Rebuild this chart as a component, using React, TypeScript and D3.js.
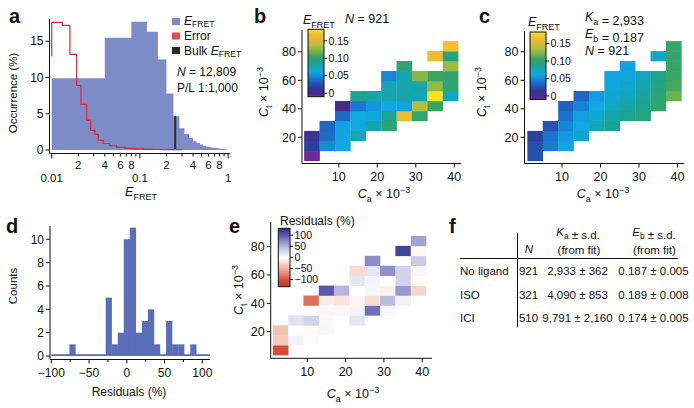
import React from 'react';
import * as d3 from 'd3';

const FONT = '"Liberation Sans", Arial, Helvetica, sans-serif';

// ---------------- panel a : E_FRET histogram ----------------
const EFRET_BIN = 0.04;
const EFRET_OCC = [9.9, 15.5, 17.7, 16.3, 12.5, 7.8, 4.65, 3.0, 2.2, 1.7, 1.2, 0.95, 0.75, 0.6, 0.5, 0.42, 0.36, 0.3, 0.26, 0.22, 0.18, 0.15, 0.12, 0.1];
const ERROR_EDGES = [0.01, 0.01318, 0.01611, 0.01918, 0.02144, 0.02489, 0.02763, 0.03088, 0.03366, 0.03834, 0.04559, 0.05434, 0.06748, 0.08765, 0.11, 0.14, 0.18, 0.23, 0.3];
const ERROR_OCC = [17.6, 17.2, 13.2, 8.9, 6.3, 4.1, 2.7, 2.15, 1.37, 0.9, 0.6, 0.37, 0.23, 0.15, 0.1, 0.07, 0.05, 0.04];
const ERROR_ENTRY = 12.9;
const BULK_RANGE = [0.245, 0.258];
const BULK_OCC = 4.65;
const A_Y_TICKS = [0, 5, 10, 15];
const A_MAJOR = [0.01, 0.1, 1];
const A_MAJOR_LABELS = ['0.01', '0.1', '1'];
const A_MINOR_MULT = [2, 3, 4, 5, 6, 7, 8, 9];
const A_MINOR_LABELLED = [2, 4, 6, 8];

// ---------------- heat maps (b, c, e) ----------------
const CA_BIN = 4;
const CT_BIN = 7;
const CT_CENTERS = [7, 14, 21, 28, 35, 42, 49, 56, 63, 70, 77, 84];
const CA_BY_ROW = [
  [3],
  [3, 7, 11],
  [3, 7, 11, 15],
  [7, 11, 15, 19, 23],
  [11, 15, 19, 23, 27, 31],
  [11, 15, 19, 23, 27, 31, 35],
  [15, 19, 23, 27, 31, 35, 39],
  [23, 27, 31, 35, 39],
  [23, 27, 31, 35, 39],
  [27, 39],
  [35, 39],
  [39],
];
const E_MEASURED = [
  [-0.01],
  [0.018, 0.05, 0.06],
  [0.008, 0.038, 0.058, 0.078],
  [0.036, 0.058, 0.062, 0.08, 0.1],
  [0.037, 0.06, 0.064, 0.088, 0.162, 0.102],
  [0.0, 0.042, 0.054, 0.06, 0.058, 0.135, 0.105],
  [0.088, 0.082, 0.08, 0.08, 0.078, 0.182, 0.072],
  [0.078, 0.08, 0.08, 0.128, 0.1],
  [0.048, 0.08, 0.125, 0.105, 0.1],
  [0.098, 0.13],
  [0.163, 0.095],
  [0.17],
];
const E_FIT = [
  [0.027],
  [0.025, 0.043, 0.058],
  [0.018, 0.04, 0.055, 0.07],
  [0.028, 0.048, 0.062, 0.076, 0.088],
  [0.04, 0.057, 0.068, 0.08, 0.088, 0.095],
  [0.034, 0.047, 0.06, 0.073, 0.082, 0.09, 0.1],
  [0.035, 0.056, 0.067, 0.075, 0.085, 0.097, 0.118],
  [0.063, 0.069, 0.08, 0.094, 0.108],
  [0.059, 0.064, 0.075, 0.09, 0.106],
  [0.058, 0.104],
  [0.072, 0.103],
  [0.102],
];
const RESIDUALS = [
  [-105],
  [-35, 8, 2],
  [-40, 1, -5, 5],
  [20, 30, -4, 0, 18],
  [2, 6, 5, 8, 88, 6],
  [-85, -12, -18, -8, -22, 45, 10],
  [100, 48, 0, 6, -10, 65, -28],
  [18, 8, 0, 30, -3],
  [-25, 18, 70, 30, 6],
  [72, 35],
  [115, -5],
  [60],
];
const HEAT_X_TICKS = [10, 20, 30, 40];
const HEAT_Y_TICKS = [20, 40, 60, 80];
const E_CB_TICKS = [0, 0.05, 0.1, 0.15];
const E_CB_LABELS = ['0', '0.05', '0.10', '0.15'];
const E_CB_DOMAIN = [-0.01, 0.183];
const E_STOPS = [-0.01, 0, 0.015, 0.03, 0.045, 0.06, 0.075, 0.09, 0.105, 0.12, 0.135, 0.155, 0.17, 0.183];
const E_COLORS = ['#6e2a96', '#482c8c', '#2e3a98', '#2458b8', '#1680d4', '#10a8e4', '#12a6bc', '#1ea48c', '#38a462', '#70b44c', '#b0c040', '#e4b836', '#f4c030', '#f8e620'];
const R_CB_TICKS = [100, 50, 0, -50, -100];
const R_CB_LABELS = ['100', '50', '0', '\u221250', '\u2212100'];
const R_CB_DOMAIN = [-132, 131];
const R_STOPS = [-132, -100, -50, 0, 50, 100, 131];
const R_COLORS = ['#c9302c', '#d8503c', '#f0b4a0', '#ffffff', '#b4b4dc', '#5a5aac', '#2a2d84'];

// ---------------- panel d : residual histogram ----------------
const RESID_BIN = 8;
const RESID_CENTERS = [-72, -24, -16, -8, 0, 8, 16, 24, 32, 40, 56, 64, 72, 88];
const RESID_COUNTS = [1, 5, 1, 2, 10, 11, 2, 3, 4, 1, 3, 1, 1, 1];
const RESID_RANGE = [-100, 110];
const D_X_TICKS = [-100, -50, 0, 50, 100];
const D_X_LABELS = ['\u2212100', '\u221250', '0', '50', '100'];
const D_X_MINOR = [-75, -25, 25, 75];
const D_Y_TICKS = [0, 2, 4, 6, 8, 10];

// ---------------- panel f : table ----------------
const TABLE_ROWS = ['No ligand', 'ISO', 'ICI'];
const TABLE_N = ['921', '321', '510'];
const TABLE_KA = ['2,933 \u00b1 362', '4,090 \u00b1 853', '9,791 \u00b1 2,160'];
const TABLE_EB = ['0.187 \u00b1 0.005', '0.189 \u00b1 0.008', '0.174 \u00b1 0.005'];

const eColor = d3.scaleLinear<string>().domain(E_STOPS).range(E_COLORS).interpolate(d3.interpolateRgb).clamp(true);
const rColor = d3.scaleLinear<string>().domain(R_STOPS).range(R_COLORS).interpolate(d3.interpolateRgb).clamp(true);

const AX = '#111';

function SubLabel({ main, sub, size, italic = true, shift = 0.28 }: any) {
  return (
    <>
      <tspan fontStyle={italic ? 'italic' : 'normal'}>{main}</tspan>
      <tspan fontSize={size * 0.72} dy={size * shift}>{sub}</tspan>
      <tspan dy={-size * shift}>{''}</tspan>
    </>
  );
}

function CLabel({ sub, size }: any) {
  return (
    <>
      <tspan fontStyle="italic">C</tspan>
      <tspan fontSize={size * 0.72} dy={size * 0.3}>{sub}</tspan>
      <tspan dy={-size * 0.3}>{' \u00d7 10'}</tspan>
      <tspan fontSize={size * 0.72} dy={-size * 0.42}>{'\u22123'}</tspan>
    </>
  );
}

function PanelA() {
  const x = d3.scaleLog().domain([0.01, 1]).range([51.7, 228.1]);
  const y = d3.scaleLinear().domain([0, 15]).range([150, 41.25]);
  let blue = `M${x(0.01)},${y(0)}`;
  EFRET_OCC.forEach((v, i) => {
    blue += `V${y(v)}H${x((i + 1) * EFRET_BIN)}`;
  });
  blue += `V${y(0)}Z`;
  let red = `M${x(ERROR_EDGES[0])},${y(ERROR_ENTRY)}`;
  ERROR_OCC.forEach((v, i) => {
    red += `V${y(v)}H${x(ERROR_EDGES[i + 1])}`;
  });
  red += `V${y(0)}`;
  const minors: number[] = [];
  [0.01, 0.1].forEach((d) => A_MINOR_MULT.forEach((m) => minors.push(d * m)));
  const axY = 153.5;
  const axX = 49.5;
  return (
    <g>
      <path d={blue} fill="#7d8cc6" />
      <rect x={x(BULK_RANGE[0])} width={x(BULK_RANGE[1]) - x(BULK_RANGE[0])} y={y(BULK_OCC)} height={y(0) - y(BULK_OCC)} fill="#2b2b2b" />
      <path d={red} fill="none" stroke="#d42a3c" strokeWidth={1.2} />
      <line x1={axX} x2={axX} y1={19} y2={axY} stroke={AX} />
      {A_Y_TICKS.map((t) => (
        <g key={t}>
          <line x1={axX - 4} x2={axX} y1={y(t)} y2={y(t)} stroke={AX} />
          <text x={axX - 6} y={y(t) + 4.2} fontSize={12} textAnchor="end">{t}</text>
        </g>
      ))}
      <line x1={axX} x2={230} y1={axY} y2={axY} stroke={AX} />
      {A_MAJOR.map((t, i) => (
        <g key={t}>
          <line x1={x(t)} x2={x(t)} y1={axY} y2={axY + 5} stroke={AX} />
          <text x={x(t)} y={182} fontSize={11.5} textAnchor="middle">{A_MAJOR_LABELS[i]}</text>
        </g>
      ))}
      {minors.map((t) => {
        const m = Math.round(t / (t < 0.1 ? 0.01 : 0.1));
        return (
          <g key={t}>
            <line x1={x(t)} x2={x(t)} y1={axY} y2={axY + 3} stroke={AX} />
            {A_MINOR_LABELLED.includes(m) ? (
              <text x={x(t)} y={169} fontSize={11.5} textAnchor="middle">{m}</text>
            ) : null}
          </g>
        );
      })}
      <text transform="translate(17,93) rotate(-90)" fontSize={11.5} textAnchor="middle">Occurrence (%)</text>
      <text x={141} y={196} fontSize={12.5} textAnchor="middle">
        <SubLabel main="E" sub="FRET" size={12.5} />
      </text>
      <rect x={172} y={18} width={8} height={7} fill="#7d8cc6" />
      <rect x={172} y={32.5} width={8} height={7} fill="#df4a5a" />
      <rect x={172} y={47} width={8} height={7} fill="#2b2b2b" />
      <text x={184} y={24.5} fontSize={12}>
        <SubLabel main="E" sub="FRET" size={12} shift={0.2} />
      </text>
      <text x={184} y={40} fontSize={12}>Error</text>
      <text x={184} y={55} fontSize={12}>
        <tspan>{'Bulk '}</tspan>
        <SubLabel main="E" sub="FRET" size={12} shift={0.2} />
      </text>
      <text x={177} y={76} fontSize={12}>
        <tspan fontStyle="italic">N</tspan>
        <tspan>{' = 12,809'}</tspan>
      </text>
      <text x={177} y={92} fontSize={12}>P/L 1:1,000</text>
      <text x={9} y={23} fontSize={20} fontWeight="bold">a</text>
    </g>
  );
}

function Heat({ xr, yr, axis, values, color, keyp }: any) {
  const x = d3.scaleLinear().domain([0, 40]).range(xr);
  const y = d3.scaleLinear().domain([0, 80]).range(yr);
  const cells: any[] = [];
  CT_CENTERS.forEach((ct, r) => {
    CA_BY_ROW[r].forEach((ca, c) => {
      const x0 = x(ca - CA_BIN / 2);
      const x1 = x(ca + CA_BIN / 2);
      const y0 = y(ct + CT_BIN / 2);
      const y1 = y(ct - CT_BIN / 2);
      cells.push(
        <rect key={`${keyp}-${r}-${c}`} x={x0} y={y0} width={x1 - x0 + 0.3} height={y1 - y0 + 0.3} fill={color(values[r][c])} />
      );
    });
  });
  const { left, top, bottom, right } = axis;
  return (
    <g>
      {cells}
      <line x1={left} x2={left} y1={top} y2={bottom} stroke={AX} />
      <line x1={left} x2={right} y1={bottom} y2={bottom} stroke={AX} />
      {HEAT_X_TICKS.map((t) => (
        <g key={t}>
          <line x1={x(t)} x2={x(t)} y1={bottom} y2={bottom + 4} stroke={AX} />
          <text x={x(t)} y={bottom + 17.5} fontSize={12.5} textAnchor="middle">{t}</text>
        </g>
      ))}
      {HEAT_Y_TICKS.map((t) => (
        <g key={t}>
          <line x1={left - 4} x2={left} y1={y(t)} y2={y(t)} stroke={AX} />
          <text x={left - 6} y={y(t) + 4.4} fontSize={12.5} textAnchor="end">{t}</text>
        </g>
      ))}
    </g>
  );
}

function ColorBar({ id, x, y0, y1, w, domain, ticks, labels, color, fs = 10.5 }: any) {
  const s = d3.scaleLinear().domain(domain).range([y1, y0]);
  const n = 40;
  const stops = d3.range(n + 1).map((i) => {
    const v = domain[1] - (i / n) * (domain[1] - domain[0]);
    return <stop key={i} offset={`${(i / n) * 100}%`} stopColor={color(v)} />;
  });
  return (
    <g>
      <defs>
        <linearGradient id={id} x1="0" y1="0" x2="0" y2="1">
          {stops}
        </linearGradient>
      </defs>
      <rect x={x} y={y0} width={w} height={y1 - y0} fill={`url(#${id})`} stroke="#111" strokeWidth={1} />
      {ticks.map((t: number, i: number) => (
        <g key={t}>
          <line x1={x + w} x2={x + w + 3} y1={s(t)} y2={s(t)} stroke="#111" />
          <text x={x + w + 4.5} y={s(t) + 3.7} fontSize={fs}>{labels[i]}</text>
        </g>
      ))}
    </g>
  );
}

function PanelB() {
  return (
    <g>
      <Heat keyp="b" xr={[300.3, 454.3]} yr={[165.8, 51.8]} axis={{ left: 302, top: 30, bottom: 163.5, right: 461 }} values={E_MEASURED} color={eColor} />
      <ColorBar id="cbB" x={308} y0={29.3} y1={96.7} w={16} domain={E_CB_DOMAIN} ticks={E_CB_TICKS} labels={E_CB_LABELS} color={eColor} />
      <text x={303} y={24} fontSize={12.5}>
        <SubLabel main="E" sub="FRET" size={12.5} />
      </text>
      <text x={345} y={23} fontSize={12.5}>
        <tspan fontStyle="italic">N</tspan>
        <tspan>{' = 921'}</tspan>
      </text>
      <text transform="translate(268,92) rotate(-90)" fontSize={12.5} textAnchor="middle">
        <CLabel sub="t" size={12.5} />
      </text>
      <text x={384} y={198} fontSize={12.5} textAnchor="middle">
        <CLabel sub="a" size={12.5} />
      </text>
      <text x={254} y={23} fontSize={20} fontWeight="bold">b</text>
    </g>
  );
}

function PanelC() {
  return (
    <g>
      <Heat keyp="c" xr={[523.5, 677.5]} yr={[165.8, 51.8]} axis={{ left: 524.5, top: 31, bottom: 163.5, right: 684 }} values={E_FIT} color={eColor} />
      <ColorBar id="cbC" x={530} y0={32} y1={99.4} w={16} domain={E_CB_DOMAIN} ticks={E_CB_TICKS} labels={E_CB_LABELS} color={eColor} />
      <text x={528} y={26} fontSize={12.5}>
        <SubLabel main="E" sub="FRET" size={12.5} />
      </text>
      <text x={585} y={21} fontSize={12.5}>
        <SubLabel main="K" sub="a" size={12.5} />
        <tspan>{' = 2,933'}</tspan>
      </text>
      <text x={585} y={38} fontSize={12.5}>
        <SubLabel main="E" sub="b" size={12.5} />
        <tspan>{' = 0.187'}</tspan>
      </text>
      <text x={585} y={55} fontSize={12.5}>
        <tspan fontStyle="italic">N</tspan>
        <tspan>{' = 921'}</tspan>
      </text>
      <text transform="translate(486,92) rotate(-90)" fontSize={12.5} textAnchor="middle">
        <CLabel sub="t" size={12.5} />
      </text>
      <text x={603} y={198} fontSize={12.5} textAnchor="middle">
        <CLabel sub="a" size={12.5} />
      </text>
      <text x={479} y={23} fontSize={20} fontWeight="bold">c</text>
    </g>
  );
}

function PanelD() {
  const x = d3.scaleLinear().domain([-100, 100]).range([51.3, 202.3]);
  const y = d3.scaleLinear().domain([0, 10]).range([356, 239.3]);
  const axX = 50;
  const axY = 359.5;
  return (
    <g>
      <rect x={x(RESID_RANGE[0])} width={x(RESID_RANGE[1]) - x(RESID_RANGE[0])} y={y(0) - 1.8} height={1.8} fill="#5b6eb8" />
      {RESID_CENTERS.map((c, i) => (
        <rect key={c} x={x(c - RESID_BIN / 2)} width={x(c + RESID_BIN / 2) - x(c - RESID_BIN / 2) + 0.2} y={y(RESID_COUNTS[i])} height={y(0) - y(RESID_COUNTS[i])} fill="#5b6eb8" />
      ))}
      <line x1={axX} x2={axX} y1={226} y2={axY} stroke={AX} />
      <line x1={axX} x2={210} y1={axY} y2={axY} stroke={AX} />
      {D_Y_TICKS.map((t) => (
        <g key={t}>
          <line x1={axX - 4} x2={axX} y1={y(t)} y2={y(t)} stroke={AX} />
          <text x={axX - 6} y={y(t) + 4.2} fontSize={12} textAnchor="end">{t}</text>
        </g>
      ))}
      {D_X_TICKS.map((t, i) => (
        <g key={t}>
          <line x1={x(t)} x2={x(t)} y1={axY} y2={axY + 4} stroke={AX} />
          <text x={x(t)} y={377} fontSize={12} textAnchor="middle">{D_X_LABELS[i]}</text>
        </g>
      ))}
      {D_X_MINOR.map((t) => (
        <line key={t} x1={x(t)} x2={x(t)} y1={axY} y2={axY + 2.5} stroke={AX} />
      ))}
      <text transform="translate(17,286) rotate(-90)" fontSize={11.5} textAnchor="middle">Counts</text>
      <text x={129} y={396} fontSize={12} textAnchor="middle">Residuals (%)</text>
      <text x={6} y={233} fontSize={20} fontWeight="bold">d</text>
    </g>
  );
}

function PanelE() {
  return (
    <g>
      <Heat keyp="e" xr={[269, 422.2]} yr={[360, 246.6]} axis={{ left: 270.7, top: 222, bottom: 358.3, right: 432 }} values={RESIDUALS} color={rColor} />
      <ColorBar id="cbE" x={278.3} y0={228.3} y1={286.7} w={11.7} domain={R_CB_DOMAIN} ticks={R_CB_TICKS} labels={R_CB_LABELS} color={rColor} fs={10.5} />
      <text x={280} y={225} fontSize={12}>Residuals (%)</text>
      <text transform="translate(243,290) rotate(-90)" fontSize={12.5} textAnchor="middle">
        <CLabel sub="t" size={12.5} />
      </text>
      <text x={353} y={398} fontSize={12.5} textAnchor="middle">
        <CLabel sub="a" size={12.5} />
      </text>
      <text x={229} y={233} fontSize={20} fontWeight="bold">e</text>
    </g>
  );
}

function PanelF() {
  const rowY = [274.5, 298.5, 322];
  const fs = 11.5;
  return (
    <g>
      <text x={578} y={236} fontSize={fs} textAnchor="middle">
        <SubLabel main="K" sub="a" size={fs} />
        <tspan>{' \u00b1 s.d.'}</tspan>
      </text>
      <text x={579} y={254} fontSize={fs} textAnchor="middle">(from fit)</text>
      <text x={654} y={236} fontSize={fs} textAnchor="middle">
        <SubLabel main="E" sub="b" size={fs} />
        <tspan>{' \u00b1 s.d.'}</tspan>
      </text>
      <text x={654.5} y={254} fontSize={fs} textAnchor="middle">(from fit)</text>
      <text x={529} y={253} fontSize={fs} textAnchor="middle" fontStyle="italic">N</text>
      <line x1={460} x2={678} y1={258.5} y2={258.5} stroke={AX} />
      <line x1={517.5} x2={517.5} y1={233} y2={327} stroke={AX} />
      {TABLE_ROWS.map((r, i) => (
        <g key={r}>
          <text x={460} y={rowY[i]} fontSize={fs}>{r}</text>
          <text x={528.5} y={rowY[i]} fontSize={fs} textAnchor="middle">{TABLE_N[i]}</text>
          <text x={577.5} y={rowY[i]} fontSize={fs} textAnchor="middle">{TABLE_KA[i]}</text>
          <text x={653.5} y={rowY[i]} fontSize={fs} textAnchor="middle">{TABLE_EB[i]}</text>
        </g>
      ))}
      <text x={449} y={233} fontSize={20} fontWeight="bold">f</text>
    </g>
  );
}

export default function App() {
  return (
    <svg
      width={694}
      height={408}
      viewBox="0 0 694 408"
      style={{ position: 'absolute', left: 0, top: 0, fontFamily: FONT, background: '#fff' }}
      fill="#111"
    >
      <rect x={0} y={0} width={694} height={408} fill="#fff" />
      <PanelA />
      <PanelB />
      <PanelC />
      <PanelD />
      <PanelE />
      <PanelF />
    </svg>
  );
}
